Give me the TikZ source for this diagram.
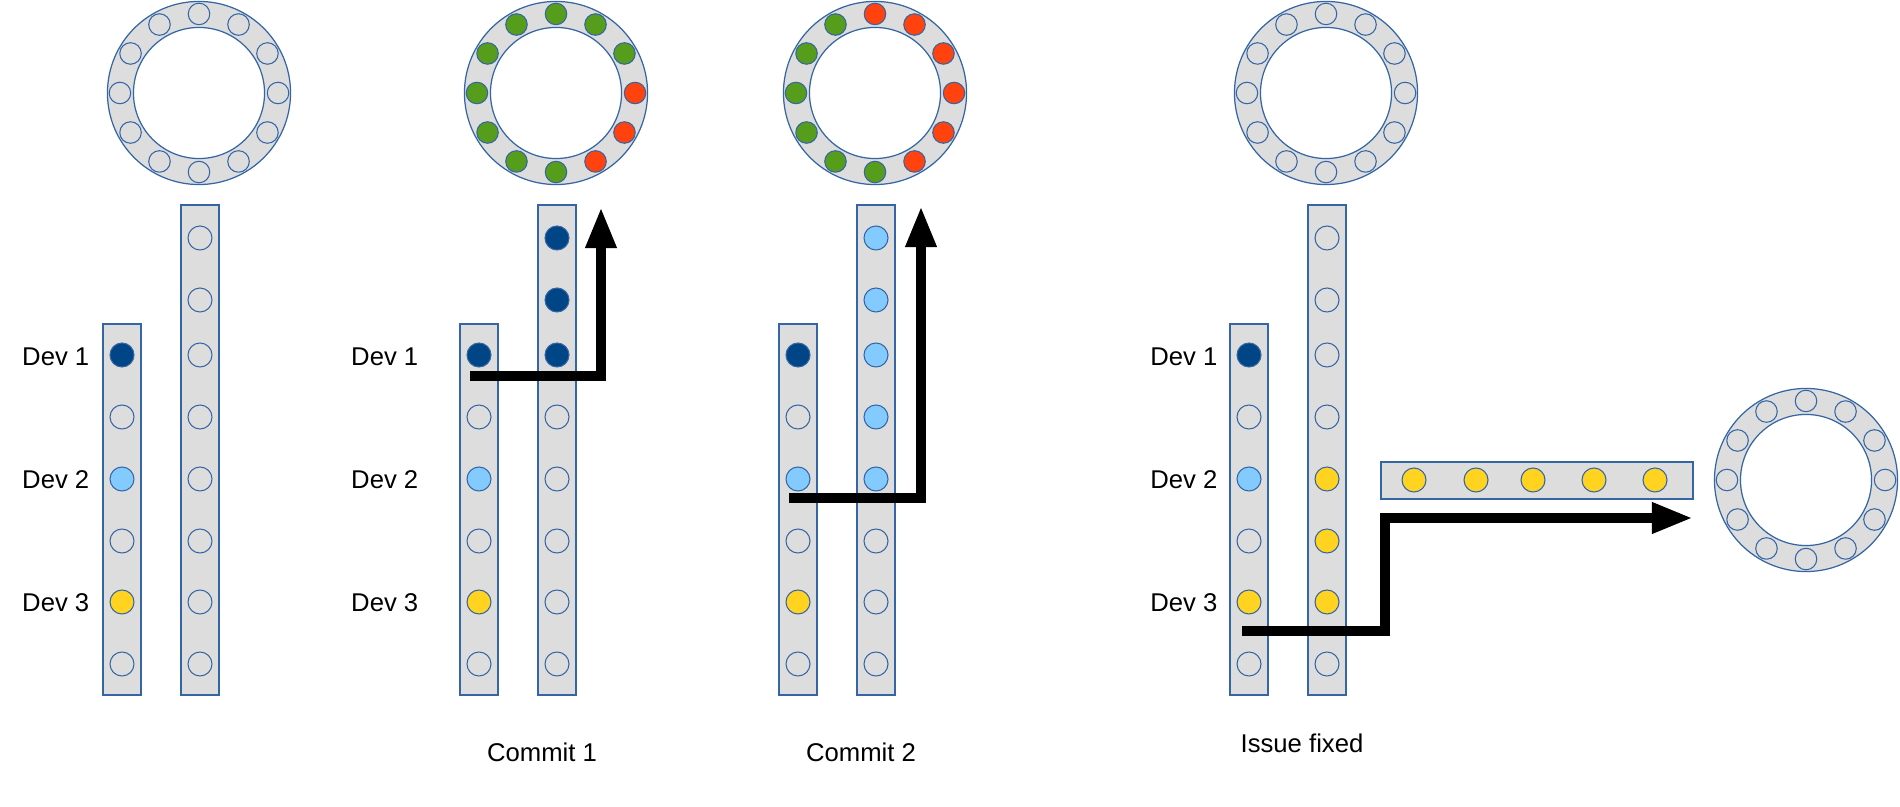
\documentclass[tikz,border=0pt]{standalone}
\usepackage{fontspec}
\setmainfont{Liberation Sans}
\usetikzlibrary{arrows.meta}
\definecolor{lblue}{HTML}{3465A4}
\definecolor{barfill}{HTML}{DDDDDD}
\definecolor{dblue}{HTML}{004586}
\definecolor{sky}{HTML}{83CAFF}
\definecolor{gold}{HTML}{FFD320}
\definecolor{leaf}{HTML}{579D1C}
\definecolor{tomato}{HTML}{FF420E}
\tikzset{
	bar/.style={draw=lblue, fill=barfill, line width=0.35pt},
	slot/.style={circle, draw=lblue, fill=barfill, line width=0.3pt, inner sep=0pt, minimum size=0.24cm},
	rslot/.style={slot, minimum size=0.215cm},
	ring/.style={circle, draw=lblue, fill=barfill, line width=0.35pt, inner sep=0pt, minimum size=1.83cm},
	hole/.style={circle, draw=lblue, fill=white, line width=0.35pt, inner sep=0pt, minimum size=1.31cm},
	devtext/.style={font=\fontsize{7.3pt}{8.8pt}\selectfont, inner sep=0pt},
	fat/.style={line width=2.85pt, -{Triangle[length=11.7pt,width=8.2pt]}}
}
\begin{document}
\begin{tikzpicture}[x=0.01cm,y=-0.01cm]
		\useasboundingbox (0,0) rectangle (1900,807);
		\foreach \p/\n in {122/1,479/2,798/3,1249/4}{
			\draw [bar] (\p-19,324) rectangle (\p+19,695);
			\draw [bar] (\p+59,205) rectangle (\p+97,695);
			\foreach \y/\c [count=\i] in {355/dblue,417/barfill,479/sky,541/barfill,602/gold,664/barfill}
				\node [slot,fill=\c] (a\n-\i) at (\p,\y) {};
			\node [ring] (r\n) at (\p+77,93) {};
			\node [hole] (h\n) at (r\n) {};
		}
		\foreach \y [count=\i] in {238,300,355,417,479,541,602,664}
			\node [slot] (b1-\i) at (200,\y) {};
		\foreach \y/\c [count=\i] in {238/dblue,300/dblue,355/dblue,417/barfill,479/barfill,541/barfill,602/barfill,664/barfill}
			\node [slot,fill=\c] (b2-\i) at (557,\y) {};
		\foreach \y/\c [count=\i] in {238/sky,300/sky,355/sky,417/sky,479/sky,541/barfill,602/barfill,664/barfill}
			\node [slot,fill=\c] (b3-\i) at (876,\y) {};
		\foreach \y/\c [count=\i] in {238/barfill,300/barfill,355/barfill,417/barfill,479/gold,541/gold,602/gold,664/barfill}
			\node [slot,fill=\c] (b4-\i) at (1327,\y) {};
		\draw [bar] (1381,462) rectangle (1693,499);
		\foreach \x [count=\i] in {1414,1476,1533,1594,1655}
			\node [slot,fill=gold] (c\i) at (\x,480) {};
		\node [ring] (r5) at (1806,480) {};
		\node [hole] (h5) at (r5) {};
		\foreach \n in {1,4,5}
			\foreach \a in {0,30,...,330}
				\node [rslot] (r\n-\a) at ([shift={(\a:0.79cm)}]r\n.center) {};
		\foreach \a/\c in {0/tomato,30/leaf,60/leaf,90/leaf,120/leaf,150/leaf,180/leaf,210/leaf,240/leaf,270/leaf,300/tomato,330/tomato}
			\node [rslot,fill=\c] (r2-\a) at ([shift={(\a:0.79cm)}]r2.center) {};
		\foreach \a/\c in {0/tomato,30/tomato,60/tomato,90/tomato,120/leaf,150/leaf,180/leaf,210/leaf,240/leaf,270/leaf,300/tomato,330/tomato}
			\node [rslot,fill=\c] (r3-\a) at ([shift={(\a:0.79cm)}]r3.center) {};
		\foreach \x/\n in {90/1,419/2,1218/4}
			\foreach \y/\t [count=\i] in {357/1,480/2,603/3}
				\node [devtext,anchor=east] (l\n-\i) at (\x,\y) {Dev \t};
		\node [devtext] (m1) at (542,752) {Commit 1};
		\node [devtext] (m2) at (861,752) {Commit 2};
		\node [devtext] (m3) at (1302,743) {Issue fixed};
		\coordinate (s2) at (470,376);
		\coordinate (t2) at (601,207);
		\draw [fat] (s2) -| (t2);
		\coordinate (s3) at (789,498);
		\coordinate (t3) at (921,206);
		\draw [fat] (s3) -| (t3);
		\coordinate (s4) at (1242,631);
		\coordinate (k4) at (1385,631);
		\coordinate (t4) at (1693,518);
		\draw [fat] (s4) -- (k4) |- (t4);
\end{tikzpicture}
\end{document}
